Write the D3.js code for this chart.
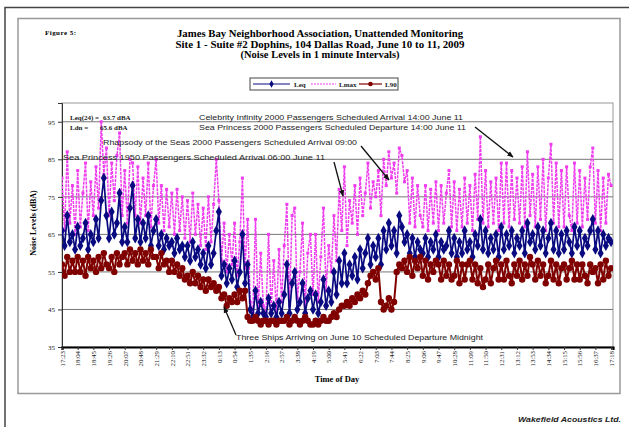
<!DOCTYPE html>
<html>
<head>
<meta charset="utf-8">
<script src="https://cdn.jsdelivr.net/npm/d3@7/dist/d3.min.js"></script>
<style>
  html, body { margin: 0; padding: 0; background: #fff; }
  svg { display: block; }
</style>
</head>
<body>
<svg id="chart" width="629" height="427"></svg>
<script>
// ---------------- DATA ----------------
const timeLabels = ["17:23","18:04","18:45","19:26","20:07","20:48","21:29","22:10","22:51","23:32",
  "0:13","0:54","1:35","2:16","2:57","3:38","4:19","5:00","5:41","6:22","7:03","7:44","8:25","9:06",
  "9:47","10:28","11:09","11:50","12:31","13:12","13:53","14:34","15:15","15:56","16:37","17:18"];
const tickStepMinutes = 41;
const pointsPerTick = 6;
const yTicks = [35, 45, 55, 65, 75, 85, 95];

const lmax = [
  80,66,87,68,78,65, 82,67,76,84,66,79, 70,83,72,95,81,88, 70,84,74,86,92,70,
  82,68,85,84,70,83, 68,80,70,84,67,78, 85,68,78,66,77,67, 76,65,77,66,75,64,
  74,63,76,65,73,62, 72,61,75,63,73,85, 74,58,68,55,65,57, 68,54,63,80,56,69,
  47,44,69,45,60,46, 44,65,45,58,44,61, 47,62,73,46,70,72, 48,55,68,46,60,65,
  49,65,47,59,72,50, 62,55,70,58,77,66, 83,62,74,68,78,65, 80,70,76,84,72,79,
  75,82,70,85,78,87, 80,84,76,88,86,79, 82,68,80,67,78,70, 67,78,66,77,68,79,
  66,78,68,76,82,67, 79,66,77,67,80,68, 78,66,81,69,91,68, 82,67,79,68,80,66,
  84,68,84,67,82,69, 80,68,83,67,87,70, 81,67,83,69,85,66, 80,89,68,84,67,82,
  67,83,70,66,84,68, 82,67,80,69,83,88, 68,82,66,80,68,81, 78
];
const leq = [
  66,62,70,63,65,61, 67,62,64,68,61,65, 63,69,64,74,80,70, 64,71,65,68,76,63,
  67,63,72,78,64,69, 63,68,64,70,62,66, 69,62,65,61,64,62, 63,60,64,61,62,59,
  62,58,63,59,61,57, 60,56,62,57,60,66, 71,54,57,52,56,53, 58,51,55,65,52,57,
  45,43,50,44,47,44, 43,48,44,46,43,47, 44,49,57,44,52,55, 45,47,52,44,48,50,
  45,49,44,47,53,46, 50,47,55,49,58,52, 60,52,57,54,59,53, 61,56,60,64,57,62,
  59,64,57,66,61,68, 62,66,60,70,67,63, 65,60,64,59,63,61, 60,64,59,63,61,65,
  59,63,61,62,66,60, 64,59,63,60,66,61, 63,59,65,62,69,61, 66,60,64,61,65,59,
  67,61,65,62,66,60, 64,62,66,60,68,63, 65,61,67,62,66,60, 64,68,61,66,60,65,
  61,66,63,60,67,62, 66,60,64,62,66,69, 61,66,60,65,62,64, 63
];
const l90 = [
  57,54,59,55,58,55, 59,55,58,54,59,56, 58,55,59,56,60,57, 56,59,55,60,57,59,
  60,57,61,58,60,57, 61,58,60,57,61,59, 59,56,60,57,58,55, 58,55,57,54,56,53,
  54,52,55,52,54,51, 53,50,53,51,52,50, 51,48,49,46,48,47, 49,47,50,48,50,43,
  42,42,43,42,41,42, 42,41,42,42,41,42, 42,42,43,41,42,43, 42,41,42,43,42,41,
  41,42,41,42,43,42, 42,43,44,43,45,46, 46,47,46,48,47,49, 48,50,49,52,54,55,
  53,56,47,45,46,48, 45,47,55,57,56,58, 55,59,54,58,56,59, 54,58,53,57,55,58,
  57,53,58,54,57,53, 54,58,52,57,53,57, 58,53,57,52,56,51, 53,57,52,56,58,53,
  57,53,58,54,52,57, 54,58,53,57,54,59, 57,53,58,54,57,52, 54,58,53,57,52,56,
  57,53,56,58,53,57, 53,57,54,52,57,55, 56,52,57,53,58,54, 56
];

const titleLines = [
  "James Bay Neighborhood Association, Unattended Monitoring",
  "Site 1 - Suite #2 Dophins, 104 Dallas Road, June 10 to 11, 2009",
  "(Noise Levels in 1 minute Intervals)"
];
const seriesNames = ["Leq", "Lmax", "L90"];

// ---------------- DRAW ----------------
const svg = d3.select("#chart");
const serif = "'Liberation Serif', 'Times New Roman', serif";
const sans = "'Liberation Sans', Arial, sans-serif";

const x = d3.scaleLinear().domain([0, 1440]).range([62, 613]);
const y = d3.scaleLinear().domain([35, 100]).range([347, 103]);
const minuteOf = i => i * tickStepMinutes / pointsPerTick;

// frames
svg.append("rect").attr("x", 5).attr("y", 7.5).attr("width", 700).attr("height", 500)
  .attr("fill", "none").attr("stroke", "#444").attr("stroke-width", 1.5);
svg.append("rect").attr("x", 18).attr("y", 18.5).attr("width", 602).attr("height", 375)
  .attr("fill", "#fff").attr("stroke", "#999").attr("stroke-width", 1.5);

// titles
svg.append("text").attr("x", 45).attr("y", 35).attr("font-family", serif)
  .attr("font-weight", "bold").attr("font-size", 7).attr("textLength", 31).text("Figure 5:");
const titleY = [37, 47.5, 58];
const titleW = [286, 289, null];
titleLines.forEach((t, i) => {
  const tx = svg.append("text").attr("x", 320).attr("y", titleY[i]).attr("text-anchor", "middle")
    .attr("font-family", serif).attr("font-weight", "bold").attr("font-size", 10.5).text(t);
  if (titleW[i]) tx.attr("textLength", titleW[i]).attr("lengthAdjust", "spacingAndGlyphs");
});

// plot area
svg.append("rect").attr("x", 62).attr("y", 103).attr("width", 551).attr("height", 244)
  .attr("fill", "#fff").attr("stroke", "#999").attr("stroke-width", 1);

// grid
svg.append("g").selectAll("line").data(yTicks.slice(1)).join("line")
  .attr("x1", 62).attr("x2", 613).attr("y1", d => y(d)).attr("y2", d => y(d))
  .attr("stroke", "#777").attr("stroke-width", 1);

// axes
const yAxis = svg.append("g").attr("transform", "translate(62,0)")
  .call(d3.axisLeft(y).tickValues(yTicks).tickSize(4).tickPadding(3));
yAxis.select(".domain").attr("stroke", "#333");
yAxis.selectAll("text").attr("font-family", serif).attr("font-size", 7).attr("fill", "#222");
yAxis.selectAll("line").attr("stroke", "#333");

const tickMinutes = timeLabels.map((_, i) => i * tickStepMinutes);
const xAxis = svg.append("g").attr("transform", "translate(0,347)")
  .call(d3.axisBottom(x).tickValues(tickMinutes).tickFormat((d, i) => timeLabels[i]).tickSize(3));
xAxis.select(".domain").attr("stroke", "#000").attr("stroke-width", 2.2);
xAxis.selectAll("line").attr("stroke", "#333");
xAxis.selectAll("text")
  .attr("font-family", serif).attr("font-size", 6.8).attr("fill", "#222")
  .attr("transform", "rotate(-90)").attr("text-anchor", "end")
  .attr("x", -4).attr("y", 0).attr("dy", "0.33em");

// axis titles
svg.append("text").attr("transform", "translate(36,223) rotate(-90)").attr("text-anchor", "middle")
  .attr("font-family", serif).attr("font-weight", "bold").attr("font-size", 8).text("Noise Levels (dBA)");
svg.append("text").attr("x", 337).attr("y", 382).attr("text-anchor", "middle")
  .attr("font-family", serif).attr("font-weight", "bold").attr("font-size", 8.5).text("Time of Day");

// series
svg.append("clipPath").attr("id", "plotclip").append("rect")
  .attr("x", 62).attr("y", 103).attr("width", 551).attr("height", 244);
const plot = svg.append("g").attr("clip-path", "url(#plotclip)");

const colLmax = "#ee3cee", colLeq = "#0a0a80", colL90 = "#800000";
const line = d3.line().x((d, i) => x(minuteOf(i))).y(d => y(d));

// Lmax
plot.append("path").datum(lmax).attr("d", line).attr("fill", "none")
  .attr("stroke", colLmax).attr("stroke-width", 1.5).attr("stroke-dasharray", "3,1");
plot.append("g").selectAll("rect").data(lmax).join("rect")
  .attr("x", (d, i) => x(minuteOf(i)) - 1.5).attr("y", d => y(d) - 1.5)
  .attr("width", 3).attr("height", 3).attr("fill", colLmax);

// Leq
plot.append("path").datum(leq).attr("d", line).attr("fill", "none")
  .attr("stroke", colLeq).attr("stroke-width", 1.7);
const diamond = d3.symbol().type(d3.symbolDiamond).size(32);
plot.append("g").selectAll("path").data(leq).join("path")
  .attr("transform", (d, i) => `translate(${x(minuteOf(i))},${y(d)})`)
  .attr("d", diamond).attr("fill", colLeq);

// L90
plot.append("path").datum(l90).attr("d", line).attr("fill", "none")
  .attr("stroke", colL90).attr("stroke-width", 2);
plot.append("g").selectAll("circle").data(l90).join("circle")
  .attr("cx", (d, i) => x(minuteOf(i))).attr("cy", d => y(d)).attr("r", 3.2).attr("fill", colL90);

// legend
const lg = svg.append("g");
const legendDiamond = d3.symbol().type(d3.symbolDiamond).size(16);
lg.append("rect").attr("x", 250).attr("y", 78).attr("width", 148).attr("height", 12)
  .attr("fill", "#fff").attr("stroke", "#444").attr("stroke-width", 1);
lg.append("line").attr("x1", 253).attr("x2", 290).attr("y1", 84).attr("y2", 84).attr("stroke", colLeq).attr("stroke-width", 1.2);
lg.append("path").attr("transform", "translate(271.5,84)").attr("d", legendDiamond).attr("fill", colLeq);
lg.append("line").attr("x1", 311).attr("x2", 336).attr("y1", 84).attr("y2", 84).attr("stroke", colLmax)
  .attr("stroke-width", 1).attr("stroke-dasharray", "2,1");
lg.append("line").attr("x1", 359).attr("x2", 382).attr("y1", 84).attr("y2", 84).attr("stroke", colL90).attr("stroke-width", 1.2);
lg.append("circle").attr("cx", 370.5).attr("cy", 84).attr("r", 2.3).attr("fill", colL90);
const lgX = [294, 339, 385];
seriesNames.forEach((n, i) => {
  lg.append("text").attr("x", lgX[i]).attr("y", 86.5).attr("font-family", serif).attr("font-weight", "bold")
    .attr("font-size", 7).attr("fill", "#222").text(n);
});

// stats
const statStyle = s => s.attr("font-family", serif).attr("font-weight", "bold").attr("font-size", 7).attr("fill", "#222");
statStyle(svg.append("text").attr("x", 70).attr("y", 120).text("Leq(24) ="));
statStyle(svg.append("text").attr("x", 103).attr("y", 120).text("63.7 dBA"));
statStyle(svg.append("text").attr("x", 70).attr("y", 130).text("Ldn ="));
statStyle(svg.append("text").attr("x", 100).attr("y", 130).text("65.6 dBA"));

// annotations
const notes = [
  {t: "Celebrity Infinity 2000 Passengers Scheduled Arrival 14:00 June 11", x: 199, y: 120, w: 264},
  {t: "Sea Princess 2000 Passengers Scheduled Departure 14:00 June 11", x: 199, y: 130, w: 267},
  {t: "Rhapsody of the Seas 2000 Passengers Scheduled Arrival 09:00", x: 103, y: 145, w: 254},
  {t: "Sea Princess 1950 Passengers Scheduled Arrival 06:00 June 11", x: 63, y: 160, w: 262},
  {t: "Three Ships Arriving on June 10 Scheduled Departure Midnight", x: 236, y: 340, w: 247}
];
notes.forEach(n => {
  svg.append("text").attr("x", n.x).attr("y", n.y).attr("font-family", sans).attr("font-size", 8)
    .attr("fill", "#222").attr("textLength", n.w).attr("lengthAdjust", "spacingAndGlyphs").text(n.t);
});

// arrows
svg.append("defs").append("marker").attr("id", "ah").attr("viewBox", "0 0 10 10")
  .attr("refX", 9).attr("refY", 5).attr("markerWidth", 5).attr("markerHeight", 5)
  .attr("orient", "auto").append("path").attr("d", "M0,1 L10,5 L0,9 Z").attr("fill", "#111");
const arrows = [
  [475, 127, 513, 157],
  [361, 146, 389, 180],
  [334, 162, 343, 196],
  [236, 335, 224, 307]
];
arrows.forEach(a => {
  svg.append("line").attr("x1", a[0]).attr("y1", a[1]).attr("x2", a[2]).attr("y2", a[3])
    .attr("stroke", "#111").attr("stroke-width", 1.3).attr("marker-end", "url(#ah)");
});

// footer
svg.append("text").attr("x", 621).attr("y", 422).attr("text-anchor", "end")
  .attr("font-family", sans).attr("font-weight", "bold").attr("font-style", "italic")
  .attr("font-size", 8).attr("fill", "#222").attr("textLength", 103).attr("lengthAdjust", "spacingAndGlyphs")
  .text("Wakefield Acoustics Ltd.");
</script>
</body>
</html>
